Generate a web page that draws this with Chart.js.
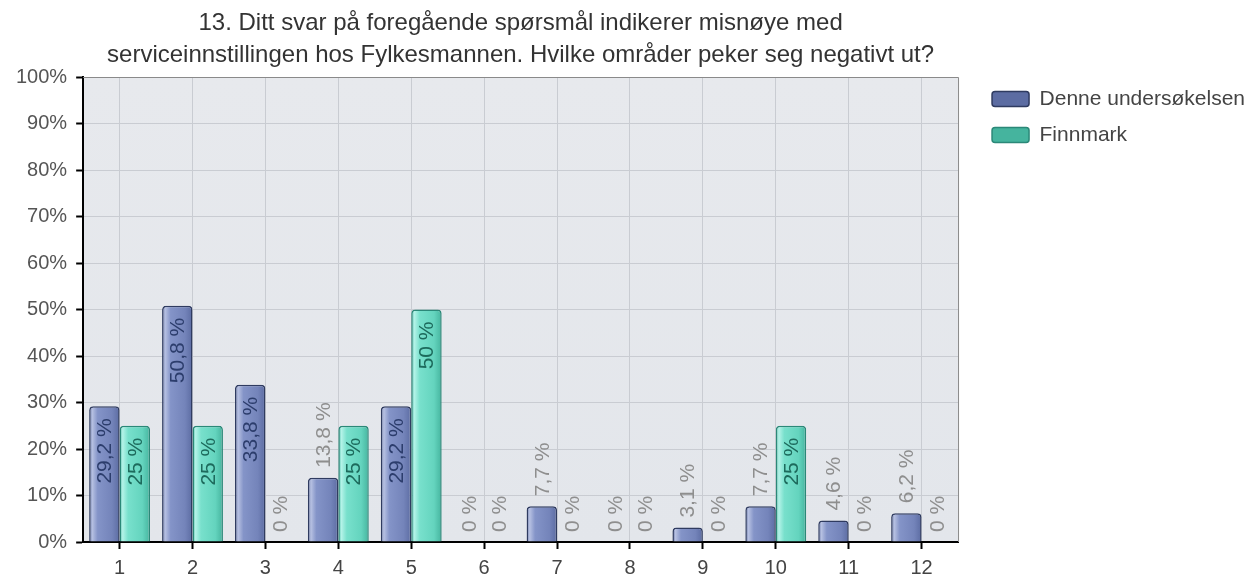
<!DOCTYPE html>
<html><head><meta charset="utf-8">
<script src="https://cdn.jsdelivr.net/npm/chart.js@4.4.1/dist/chart.umd.min.js"></script>
<style>html,body{margin:0;padding:0;background:#fff;overflow:hidden;} #wrap{width:1253px;height:575px;position:relative;}</style>
</head><body><div id="wrap"><canvas id="c" width="1253" height="575"></canvas></div>
<script>
const titleLines = [
  '13. Ditt svar på foregående spørsmål indikerer misnøye med',
  'serviceinnstillingen hos Fylkesmannen. Hvilke områder peker seg negativt ut?'
];
const categories = ['1','2','3','4','5','6','7','8','9','10','11','12'];
const seriesNames = ['Denne undersøkelsen', 'Finnmark'];
const denneValues    = [29.2, 50.8, 33.8, 13.8, 29.2, 0, 7.7, 0, 3.1, 7.7, 4.6, 6.2];
const finnmarkValues = [25,   25,   0,    25,   50,   0, 0,   0, 0,   25,  0,   0];
const yTickLabels = ['0%','10%','20%','30%','40%','50%','60%','70%','80%','90%','100%'];

const FONT = '"Liberation Sans", Arial, sans-serif';
const CAT_PCT = 0.835;
const solidFill = ['#7585ba', '#66d4bf'];
const borderCols = ['#2f3b60', '#2b8878'];
const insideText = ['#2c3d6c', '#1d6a5c'];
const gradStops = [
  [[0,'#5a6a9e'],[0.1,'#b7c1e2'],[0.28,'#8494c8'],[0.75,'#7484ba'],[1,'#5c6ca2']],
  [[0,'#48b9a3'],[0.1,'#b4f3e8'],[0.28,'#78e0cc'],[0.75,'#64d4be'],[1,'#45b49e']]
];

function barFill(ctx) {
  const di = ctx.datasetIndex;
  if (ctx.type !== 'data') return solidFill[di];
  const chart = ctx.chart, xs = chart.scales.x;
  if (!xs || !xs.width) return solidFill[di];
  const cw = xs.width / categories.length;
  const half = cw * CAT_PCT / 2;
  const cx = xs.getPixelForValue(ctx.dataIndex);
  const x0 = di === 0 ? cx - half : cx;
  const g = chart.ctx.createLinearGradient(x0, 0, x0 + half, 0);
  gradStops[di].forEach(s => g.addColorStop(s[0], s[1]));
  return g;
}
function fmt(v) { return String(v).replace('.', ',') + ' %'; }

const bgPlugin = {
  id: 'plotBg',
  beforeDraw(chart) {
    const a = chart.chartArea, c = chart.ctx;
    c.save();
    const g = c.createLinearGradient(0, a.top, 0, a.bottom);
    g.addColorStop(0, '#e7e9ed');
    g.addColorStop(1, '#e3e6eb');
    c.fillStyle = g;
    c.fillRect(a.left, a.top, a.right - a.left, a.bottom - a.top);
    c.restore();
  },
  afterDraw(chart) {
    const a = chart.chartArea, c = chart.ctx;
    c.save();
    c.strokeStyle = '#8a8a8a';
    c.lineWidth = 1;
    c.beginPath();
    c.moveTo(a.left, a.top + 0.5); c.lineTo(a.right + 0.5, a.top + 0.5); c.lineTo(a.right + 0.5, a.bottom);
    c.stroke();
    c.fillStyle = '#333';
    c.font = '24px ' + FONT;
    c.textAlign = 'center';
    c.textBaseline = 'middle';
    const cx = (a.left + a.right) / 2;
    c.fillText(titleLines[0], cx, a.top - 54);
    c.fillText(titleLines[1], cx, a.top - 22);
    c.restore();
  }
};

const legendShift = {
  id: 'legendShift',
  afterLayout(chart) {
    const l = chart.legend, a = chart.chartArea;
    const dx = (a.right + 19) - l.left;
    l.left += dx; l.right += dx;
    const dy = (a.top - 3.5) - l.top;
    l.top += dy; l.bottom += dy;
  }
};

const labelPlugin = {
  id: 'barLabels',
  afterDatasetsDraw(chart) {
    const c = chart.ctx;
    c.save();
    c.font = '21px ' + FONT;
    c.textBaseline = 'middle';
    chart.data.datasets.forEach((ds, di) => {
      const meta = chart.getDatasetMeta(di);
      meta.data.forEach((bar, i) => {
        const txt = fmt(ds.data[i]);
        const w = c.measureText(txt).width;
        const p = bar.getProps(['x', 'y', 'base'], true);
        const h = p.base - p.y;
        c.save();
        if (h >= w + 24) {
          c.translate(p.x + 1, p.y + 12);
          c.rotate(-Math.PI / 2);
          c.textAlign = 'right';
          c.fillStyle = insideText[di];
        } else {
          c.translate(p.x + 1, p.y - 10);
          c.rotate(-Math.PI / 2);
          c.textAlign = 'left';
          c.fillStyle = '#8e8e8e';
        }
        c.fillText(txt, 0, 0);
        c.restore();
      });
    });
    c.restore();
  }
};

const datasets = [denneValues, finnmarkValues].map((vals, di) => ({
  label: seriesNames[di],
  data: vals,
  backgroundColor: barFill,
  borderColor: borderCols[di],
  borderWidth: ctx => (ctx.type === 'data' && ctx.raw === 0) ? 0 : 1.5,
  borderRadius: { topLeft: 4, topRight: 4, bottomLeft: 0, bottomRight: 0 },
  borderSkipped: 'start',
  categoryPercentage: CAT_PCT,
  barPercentage: 1.0
}));

new Chart(document.getElementById('c'), {
  type: 'bar',
  data: { labels: categories, datasets },
  options: {
    responsive: false,
    animation: false,
    layout: { padding: { top: 77, left: 7, right: 17, bottom: -12 } },
    plugins: {
      title: { display: false },
      tooltip: { enabled: false },
      legend: {
        position: 'right',
        align: 'start',
        labels: {
          boxWidth: 37, boxHeight: 15, padding: 15,
          useBorderRadius: true, borderRadius: 3,
          color: '#444',
          font: { family: FONT, size: 21 }
        }
      }
    },
    scales: {
      x: {
        offset: true,
        grid: { offset: false, color: '#c9ccd2', lineWidth: 1, tickColor: '#000', tickLength: 7, tickWidth: 2 },
        border: { display: true, color: '#000', width: 2 },
        ticks: { color: '#444', padding: 9, font: { family: FONT, size: 20, lineHeight: 1 } }
      },
      y: {
        min: 0, max: 100,
        grid: {
          color: ctx => (ctx.tick && ctx.tick.value === 100) ? '#8a8a8a' : '#c9ccd2',
          lineWidth: 1, tickColor: '#000', tickLength: 7, tickWidth: 2
        },
        border: { display: true, color: '#000', width: 2 },
        ticks: {
          stepSize: 10, color: '#555', padding: 9,
          font: { family: FONT, size: 20 },
          callback: (v, i) => yTickLabels[i]
        }
      }
    }
  },
  plugins: [bgPlugin, legendShift, labelPlugin]
});
</script></body></html>
